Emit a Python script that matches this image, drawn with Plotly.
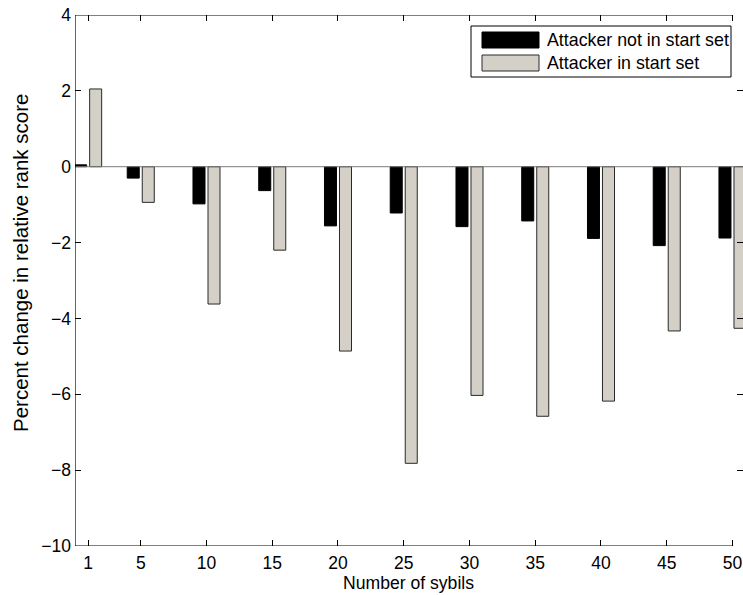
import plotly.graph_objects as go

# Number of sybil identities on the x axis
sybils = [1, 5, 10, 15, 20, 25, 30, 35, 40, 45, 50]
# Percent change in relative rank score
not_in_start = [0.05, -0.30, -0.98, -0.63, -1.56, -1.22, -1.58, -1.43, -1.89, -2.08, -1.88]
in_start = [2.05, -0.94, -3.62, -2.20, -4.86, -7.82, -6.03, -6.58, -6.18, -4.33, -4.26]
series_names = ["Attacker not in start set", "Attacker in start set"]
x_ticks = [1, 5, 10, 15, 20, 25, 30, 35, 40, 45, 50]
y_ticks = [-10, -8, -6, -4, -2, 0, 2, 4]

W, H = 743, 595
L, R, T, B = 75, 0, 15, 49
PW, PH = W - L - R, H - T - B
FONT = "Liberation Sans, Arial, Helvetica, sans-serif"
BLACK = "#000000"
GREY = "#d4d0c8"

XMAX = 50.8
bar_w = 0.914
shift = 0.571


def px_x(px):
    return (px - L) / PW


def px_y(py):
    return (H - B - py) / PH


fig = go.Figure()
fig.add_trace(go.Bar(
    x=sybils, y=not_in_start, name=series_names[0],
    width=bar_w, offset=-shift - bar_w / 2,
    marker=dict(color=BLACK, line=dict(color=BLACK, width=1)),
    showlegend=False,
))
fig.add_trace(go.Bar(
    x=sybils, y=in_start, name=series_names[1],
    width=bar_w, offset=shift - bar_w / 2,
    marker=dict(color=GREY, line=dict(color="#2a2a2a", width=1)),
    showlegend=False,
))

shapes = [
    # baseline at zero
    dict(type="line", xref="x", yref="y", x0=0, x1=XMAX, y0=0, y1=0,
         line=dict(color="#7a7a7a", width=1), layer="above"),
    # axes frame: left, bottom, top
    dict(type="line", xref="x", yref="y", x0=0, x1=0, y0=-10, y1=4,
         line=dict(color=BLACK, width=1.2), layer="above"),
    dict(type="line", xref="x", yref="y", x0=0, x1=50.05, y0=-10, y1=-10,
         line=dict(color=BLACK, width=1.2), layer="above"),
    dict(type="line", xref="x", yref="y", x0=0, x1=50.05, y0=4, y1=4,
         line=dict(color=BLACK, width=1.2), layer="above"),
    # legend box
    dict(type="rect", xref="paper", yref="paper",
         x0=px_x(471), x1=px_x(731), y0=px_y(77), y1=px_y(26),
         line=dict(color=BLACK, width=1), fillcolor="white", layer="above"),
    dict(type="rect", xref="paper", yref="paper",
         x0=px_x(482), x1=px_x(539), y0=px_y(48), y1=px_y(32),
         line=dict(color=BLACK, width=1), fillcolor=BLACK, layer="above"),
    dict(type="rect", xref="paper", yref="paper",
         x0=px_x(482), x1=px_x(539), y0=px_y(71), y1=px_y(55),
         line=dict(color="#2a2a2a", width=1), fillcolor=GREY, layer="above"),
]

annotations = [
    dict(text=series_names[0], xref="paper", yref="paper", x=px_x(545), y=px_y(40),
         xanchor="left", yanchor="middle", showarrow=False,
         font=dict(family=FONT, size=17.8, color=BLACK)),
    dict(text=series_names[1], xref="paper", yref="paper", x=px_x(545), y=px_y(63),
         xanchor="left", yanchor="middle", showarrow=False,
         font=dict(family=FONT, size=17.8, color=BLACK)),
    dict(text="Number of sybils", xref="paper", yref="paper", x=px_x(408), y=px_y(583),
         xanchor="center", yanchor="middle", showarrow=False,
         font=dict(family=FONT, size=17.6, color=BLACK)),
    dict(text="Percent change in relative rank score", xref="paper", yref="paper",
         x=px_x(20), y=px_y(263), textangle=-90,
         xanchor="center", yanchor="middle", showarrow=False,
         font=dict(family=FONT, size=20.5, color=BLACK)),
]

fig.update_layout(
    width=W, height=H,
    margin=dict(l=L, r=R, t=T, b=B, pad=0),
    paper_bgcolor="white", plot_bgcolor="white",
    barmode="overlay",
    font=dict(family=FONT, size=17.5, color=BLACK),
    shapes=shapes,
    annotations=annotations,
    xaxis=dict(
        range=[0, XMAX], tickvals=x_ticks, ticktext=[str(v) for v in x_ticks],
        ticks="inside", ticklen=6, tickcolor=BLACK, tickwidth=1,
        mirror="ticks", showline=False, showgrid=False, zeroline=False,
        tickfont=dict(family=FONT, size=17.5, color=BLACK),
        ticklabelstandoff=4,
    ),
    yaxis=dict(
        range=[-10, 4], tickvals=y_ticks,
        ticks="inside", ticklen=6, tickcolor=BLACK, tickwidth=1,
        mirror="ticks", showline=False, showgrid=False, zeroline=False,
        tickfont=dict(family=FONT, size=17.5, color=BLACK),
        ticklabelstandoff=3,
    ),
)

fig.write_html("out.html")
